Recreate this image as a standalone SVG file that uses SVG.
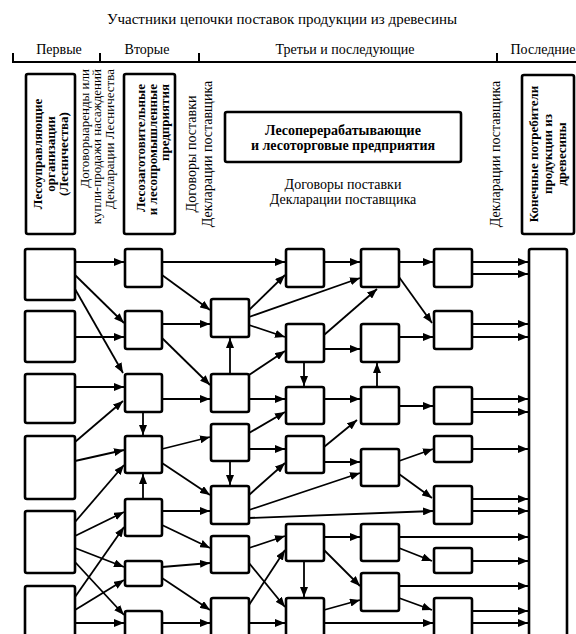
<svg xmlns="http://www.w3.org/2000/svg" width="576" height="634" viewBox="0 0 576 634" font-family="'Liberation Serif', 'Times New Roman', serif">
<style>
text{font-family:'Liberation Serif','Times New Roman',serif;fill:#000}
.t{font-size:14px}
.s{font-size:13px}
.b{font-size:13px;font-weight:bold}
.bx{fill:#fff;stroke:#000;stroke-width:2.6}
.c line{stroke:#000;stroke-width:1.8;marker-end:url(#ah)}
</style>
<defs>
<marker id="ah" viewBox="0 0 10 8" refX="10" refY="4" markerWidth="10" markerHeight="8" orient="auto" markerUnits="userSpaceOnUse"><path d="M0,0 L10,4 L0,8 z" fill="#000"/></marker>
</defs>
<rect width="576" height="634" fill="#fff"/>
<g id="header" font-family="'Liberation Serif', serif">
<text class="t" x="282" y="24" text-anchor="middle" style="font-size:15px">Участники цепочки поставок продукции из древесины</text>
<path d="M13,53 V62 H576 M100,53 V62 M199,53 V62 M497,53 V62" fill="none" stroke="#000" stroke-width="2"/>
<text class="t" x="59" y="54" text-anchor="middle">Первые</text>
<text class="t" x="147" y="54" text-anchor="middle">Вторые</text>
<text class="t" x="345" y="54" text-anchor="middle">Третьи и последующие</text>
<text class="t" x="543" y="54" text-anchor="middle">Последние</text>
</g>
<g id="cap-forest" font-family="'Liberation Serif', serif">
<rect class="bx" x="26" y="74" width="49" height="160" rx="2"/>
<g class="b" text-anchor="middle">
<text transform="translate(42,154) rotate(-90)">Лесоуправляющие</text>
<text transform="translate(55,154) rotate(-90)">организации</text>
<text transform="translate(68,154) rotate(-90)">(Лесничества)</text>
</g>
</g>
<g id="lbl-contracts1" class="s" text-anchor="end" font-family="'Liberation Serif', serif">
<text transform="translate(89,69) rotate(-90)">Договорыаренды или</text>
<text transform="translate(101,69) rotate(-90)">купли-продажи насаждений</text>
<text transform="translate(114,69) rotate(-90)">Декларации Лесничества</text>
</g>
<g id="cap-logging" font-family="'Liberation Serif', serif">
<rect class="bx" x="124" y="74" width="51" height="160" rx="2"/>
<g class="b" text-anchor="end">
<text transform="translate(145,84) rotate(-90)">Лесозаготовительные</text>
<text transform="translate(157,84) rotate(-90)">и лесопромышленные</text>
<text transform="translate(169,84) rotate(-90)">предприятия</text>
</g>
</g>
<g id="lbl-contracts2" class="t" text-anchor="middle" font-family="'Liberation Serif', serif">
<text transform="translate(196,154) rotate(-90)">Договоры поставки</text>
<text transform="translate(212,154) rotate(-90)">Декларации поставщика</text>
</g>
<g id="cap-processing" font-family="'Liberation Serif', serif">
<rect class="bx" x="225" y="112" width="236" height="50" rx="2"/>
<text class="b" x="343" y="135" text-anchor="middle" style="font-size:14px">Лесоперерабатывающие</text>
<text class="b" x="343" y="150" text-anchor="middle" style="font-size:14px">и лесоторговые предприятия</text>
</g>
<g id="lbl-contracts3" class="t" text-anchor="middle" font-family="'Liberation Serif', serif">
<text x="343" y="189">Договоры поставки</text>
<text x="343" y="204">Декларации поставщика</text>
</g>
<g id="lbl-decl" font-family="'Liberation Serif', serif">
<text class="t" transform="translate(500,154) rotate(-90)" text-anchor="middle">Декларации поставщика</text>
</g>
<g id="cap-consumers" font-family="'Liberation Serif', serif">
<rect class="bx" x="522" y="75" width="52" height="159" rx="2"/>
<g class="b" text-anchor="middle">
<text transform="translate(538,154) rotate(-90)">Конечные потребители</text>
<text transform="translate(552,154) rotate(-90)">продукции из</text>
<text transform="translate(566,154) rotate(-90)">древесины</text>
</g>
</g>
<g id="nodes">
<g id="L1"><rect class="bx" x="25" y="249" width="50" height="51" rx="2"/></g>
<g id="L2"><rect class="bx" x="25" y="311" width="50" height="51" rx="2"/></g>
<g id="L3"><rect class="bx" x="25" y="374" width="50" height="49" rx="2"/></g>
<g id="L4"><rect class="bx" x="25" y="436" width="50" height="63" rx="2"/></g>
<g id="L5"><rect class="bx" x="25" y="511" width="50" height="62" rx="2"/></g>
<g id="L6"><rect class="bx" x="25" y="586" width="50" height="64" rx="2"/></g>
<g id="M1"><rect class="bx" x="125" y="249" width="37" height="38" rx="2"/></g>
<g id="M2"><rect class="bx" x="125" y="311" width="37" height="38" rx="2"/></g>
<g id="M3"><rect class="bx" x="125" y="374" width="37" height="38" rx="2"/></g>
<g id="M4"><rect class="bx" x="125" y="436" width="37" height="37" rx="2"/></g>
<g id="M5"><rect class="bx" x="125" y="499" width="37" height="37" rx="2"/></g>
<g id="M6"><rect class="bx" x="125" y="561" width="37" height="25" rx="2"/></g>
<g id="M7"><rect class="bx" x="125" y="611" width="37" height="40" rx="2"/></g>
<g id="N1"><rect class="bx" x="211" y="299" width="38" height="38" rx="2"/></g>
<g id="N2"><rect class="bx" x="211" y="374" width="38" height="38" rx="2"/></g>
<g id="N3"><rect class="bx" x="211" y="424" width="38" height="37" rx="2"/></g>
<g id="N4"><rect class="bx" x="211" y="486" width="38" height="38" rx="2"/></g>
<g id="N5"><rect class="bx" x="211" y="536" width="38" height="37" rx="2"/></g>
<g id="N6"><rect class="bx" x="211" y="598" width="38" height="50" rx="2"/></g>
<g id="P1"><rect class="bx" x="286" y="249" width="38" height="38" rx="2"/></g>
<g id="P2"><rect class="bx" x="286" y="324" width="38" height="38" rx="2"/></g>
<g id="P3"><rect class="bx" x="286" y="387" width="38" height="37" rx="2"/></g>
<g id="P4"><rect class="bx" x="286" y="436" width="38" height="37" rx="2"/></g>
<g id="P5"><rect class="bx" x="286" y="524" width="38" height="37" rx="2"/></g>
<g id="P6"><rect class="bx" x="286" y="598" width="38" height="50" rx="2"/></g>
<g id="R1"><rect class="bx" x="361" y="249" width="38" height="38" rx="2"/></g>
<g id="R2"><rect class="bx" x="361" y="324" width="38" height="38" rx="2"/></g>
<g id="R3"><rect class="bx" x="361" y="387" width="38" height="37" rx="2"/></g>
<g id="R4"><rect class="bx" x="361" y="449" width="38" height="37" rx="2"/></g>
<g id="R5"><rect class="bx" x="361" y="524" width="38" height="37" rx="2"/></g>
<g id="R6"><rect class="bx" x="361" y="573" width="38" height="38" rx="2"/></g>
<g id="S1"><rect class="bx" x="434" y="249" width="38" height="38" rx="2"/></g>
<g id="S2"><rect class="bx" x="434" y="311" width="38" height="38" rx="2"/></g>
<g id="S3"><rect class="bx" x="434" y="387" width="38" height="37" rx="2"/></g>
<g id="S4"><rect class="bx" x="434" y="436" width="38" height="26" rx="2"/></g>
<g id="S5"><rect class="bx" x="434" y="486" width="38" height="38" rx="2"/></g>
<g id="S6"><rect class="bx" x="434" y="548" width="38" height="25" rx="2"/></g>
<g id="S7"><rect class="bx" x="434" y="598" width="38" height="50" rx="2"/></g>
<g id="F"><rect class="bx" x="529" y="249" width="38" height="400" rx="2"/></g>
</g>
<g id="connectors" class="c">
<line x1="75" y1="262" x2="124" y2="262"/>
<line x1="75" y1="275" x2="124" y2="323"/>
<line x1="75" y1="289" x2="123" y2="373"/>
<line x1="75" y1="337" x2="124" y2="337"/>
<line x1="75" y1="387" x2="124" y2="387"/>
<line x1="75" y1="442" x2="123" y2="401"/>
<line x1="143" y1="412" x2="143" y2="435"/>
<line x1="75" y1="461" x2="124" y2="450"/>
<line x1="75" y1="522" x2="124" y2="465"/>
<line x1="75" y1="536" x2="124" y2="512"/>
<line x1="75" y1="548" x2="124" y2="567"/>
<line x1="75" y1="562" x2="124" y2="615"/>
<line x1="75" y1="597" x2="124" y2="527"/>
<line x1="75" y1="610" x2="124" y2="580"/>
<line x1="75" y1="623" x2="124" y2="623"/>
<line x1="143" y1="499" x2="143" y2="474"/>
<line x1="162" y1="262" x2="285" y2="262"/>
<line x1="162" y1="275" x2="210" y2="310"/>
<line x1="162" y1="324" x2="210" y2="324"/>
<line x1="162" y1="338" x2="210" y2="385"/>
<line x1="162" y1="399" x2="210" y2="399"/>
<line x1="162" y1="449" x2="210" y2="437"/>
<line x1="162" y1="463" x2="210" y2="495"/>
<line x1="162" y1="511" x2="210" y2="511"/>
<line x1="162" y1="525" x2="210" y2="548"/>
<line x1="162" y1="567" x2="210" y2="563"/>
<line x1="162" y1="578" x2="210" y2="610"/>
<line x1="162" y1="623" x2="210" y2="623"/>
<line x1="249" y1="310" x2="285" y2="275"/>
<line x1="249" y1="317" x2="360" y2="278"/>
<line x1="249" y1="325" x2="285" y2="337"/>
<line x1="230" y1="374" x2="230" y2="338"/>
<line x1="249" y1="375" x2="285" y2="351"/>
<line x1="249" y1="399" x2="285" y2="399"/>
<line x1="249" y1="433" x2="285" y2="412"/>
<line x1="249" y1="449" x2="285" y2="449"/>
<line x1="230" y1="461" x2="230" y2="485"/>
<line x1="249" y1="495" x2="285" y2="463"/>
<line x1="249" y1="510" x2="360" y2="473"/>
<line x1="249" y1="518" x2="433" y2="511"/>
<line x1="249" y1="548" x2="285" y2="536"/>
<line x1="249" y1="563" x2="285" y2="607"/>
<line x1="249" y1="605" x2="285" y2="550"/>
<line x1="249" y1="623" x2="285" y2="623"/>
<line x1="324" y1="262" x2="360" y2="262"/>
<line x1="324" y1="335" x2="377" y2="289"/>
<line x1="324" y1="349" x2="360" y2="349"/>
<line x1="304" y1="362" x2="304" y2="386"/>
<line x1="324" y1="399" x2="360" y2="399"/>
<line x1="377" y1="387" x2="377" y2="363"/>
<line x1="324" y1="447" x2="357" y2="420"/>
<line x1="324" y1="462" x2="360" y2="462"/>
<line x1="324" y1="537" x2="360" y2="537"/>
<line x1="324" y1="550" x2="360" y2="586"/>
<line x1="304" y1="561" x2="304" y2="597"/>
<line x1="324" y1="610" x2="360" y2="600"/>
<line x1="324" y1="623" x2="433" y2="623"/>
<line x1="399" y1="262" x2="433" y2="262"/>
<line x1="399" y1="277" x2="432" y2="323"/>
<line x1="399" y1="337" x2="433" y2="337"/>
<line x1="399" y1="406" x2="433" y2="406"/>
<line x1="399" y1="461" x2="433" y2="449"/>
<line x1="399" y1="474" x2="432" y2="498"/>
<line x1="399" y1="537" x2="528" y2="537"/>
<line x1="399" y1="548" x2="432" y2="561"/>
<line x1="399" y1="586" x2="528" y2="586"/>
<line x1="399" y1="598" x2="432" y2="610"/>
<line x1="472" y1="262" x2="528" y2="262"/>
<line x1="472" y1="274" x2="528" y2="274"/>
<line x1="472" y1="324" x2="528" y2="324"/>
<line x1="472" y1="337" x2="528" y2="337"/>
<line x1="472" y1="399" x2="528" y2="399"/>
<line x1="472" y1="412" x2="528" y2="412"/>
<line x1="472" y1="449" x2="528" y2="449"/>
<line x1="472" y1="499" x2="528" y2="499"/>
<line x1="472" y1="511" x2="528" y2="511"/>
<line x1="472" y1="561" x2="528" y2="561"/>
<line x1="472" y1="611" x2="528" y2="611"/>
<line x1="472" y1="623" x2="528" y2="623"/>
</g>
</svg>
